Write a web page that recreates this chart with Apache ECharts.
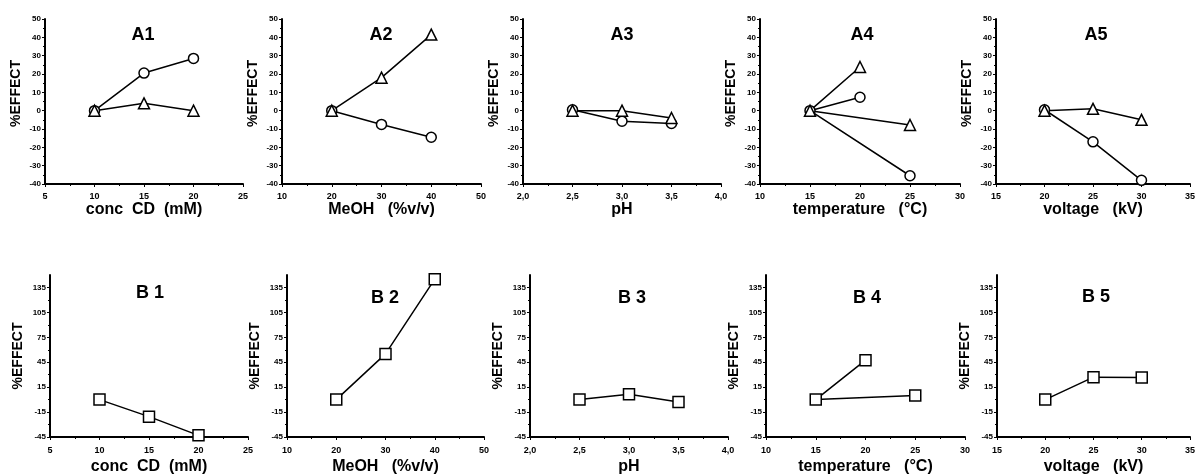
<!DOCTYPE html>
<html><head><meta charset="utf-8">
<script src="https://cdn.jsdelivr.net/npm/echarts@6/dist/echarts.min.js"></script>
<style>html,body{margin:0;padding:0;background:#fff}#c{width:1198px;height:476px}</style>
</head><body><div id="c"></div>
<script>
// ---- data ----
const titlesA = ['A1','A2','A3','A4','A5'];
const titlesB = ['B 1','B 2','B 3','B 4','B 5'];
const xNames = ['conc  CD  (mM)', 'MeOH   (%v/v)', 'pH', 'temperature   (°C)', 'voltage   (kV)'];
const xMins = [5, 10, 2.0, 10, 15];
const xMaxs = [25, 50, 4.0, 30, 35];
const xIntervals = [5, 10, 0.5, 5, 5];
const yTicksA = [-40,-30,-20,-10,0,10,20,30,40,50];
const yTicksB = [-45,-15,15,45,75,105,135];

const conc_x = [10, 15, 20];
const conc_circle = [0, 20.5, 28.5];
const conc_triangle = [0, 4, 0];
const conc_square = [0, -20.5, -43];

const meoh_x = [20, 30, 40];
const meoh_circle = [0, -7.5, -14.5];
const meoh_triangle = [0, 18, 41.5];
const meoh_square = [0, 55, 145];

const ph_x = [2.5, 3.0, 3.5];
const ph_circle = [0.5, -5.8, -7];
const ph_triangle = [0, 0, -4];
const ph_square = [0, 6.5, -3];

// temperature: lines run from 20 back to 15 then to 25
const temp_x = [20, 15, 25];
const temp_circle = [7.3, 0, -35.5];
const temp_triangle = [23.8, 0, -7.8];
const temp_square = [47.5, 0, 5];

const volt_x = [20, 25, 30];
const volt_circle = [0.5, -17, -38];
const volt_triangle = [0, 1, -5];
const volt_square = [0, 27, 26.5];

const xs = [conc_x, meoh_x, ph_x, temp_x, volt_x];
const circles = [conc_circle, meoh_circle, ph_circle, temp_circle, volt_circle];
const triangles = [conc_triangle, meoh_triangle, ph_triangle, temp_triangle, volt_triangle];
const squares = [conc_square, meoh_square, ph_square, temp_square, volt_square];

// ---- layout ----
const gridA = [[45,198],[282,199],[523,198],[760,200],[996,199]];
const gridB = [[50,198],[287,197],[530,198],[766,199],[997,198]];
const titlePosA = [[143,26],[381,26],[622,26],[862,26],[1096,26]];
const titlePosB = [[150,284],[385,289],[632,289],[867,289],[1096,288]];

const FONT = 'Liberation Sans, Arial, sans-serif';
const grids = [], xAxes = [], yAxes = [], series = [], titles = [];

function pair(xv, yv){ return xv.map((v,i)=>[v, yv[i]]); }
function fmtX(i){ return i===2 ? (v)=>Number(v).toFixed(1).replace('.',',') : (v)=>String(v); }

function addPanel(idx, row, g){
  const isA = row === 0;
  grids.push(isA ? {left:g[0], width:g[1], top:19, height:165}
                 : {left:g[0], width:g[1], top:275, height:165.5});
  const i = idx % 5;
  xAxes.push({
    type:'value', gridIndex:idx, min:xMins[i], max:xMaxs[i], interval:xIntervals[i],
    name:xNames[i], nameLocation:'middle', nameGap: isA ? 15 : 22,
    nameTextStyle:{fontFamily:FONT, fontWeight:'bold', fontSize:16, color:'#000', verticalAlign:'top'},
    axisLine:{onZero:false, lineStyle:{color:'#000', width:2}},
    axisTick:{show:true, inside:false, length:3, lineStyle:{color:'#000', width:1}},
    minorTick:{show:true, splitNumber:2, length:2, lineStyle:{color:'#000'}},
    splitLine:{show:false},
    axisLabel:{fontFamily:FONT, fontWeight:'bold', fontSize:9, color:'#000', margin: isA ? 8 : 9,
               formatter: fmtX(i), showMinLabel:true, showMaxLabel:true}
  });
  const yax = {
    type:'value', gridIndex:idx,
    name:'%EFFECT', nameLocation:'middle', nameGap: isA ? 22 : 25, nameRotate:90,
    nameTextStyle:{fontFamily:FONT, fontWeight:'bold', fontSize:14, color:'#000',
                   padding: isA ? [0,0,0,16] : 0},
    axisLine:{show:true, onZero:false, lineStyle:{color:'#000', width:2}},
    axisTick:{show:true, length:3, lineStyle:{color:'#000', width:1}},
    minorTick:{show:true, splitNumber:2, length:2, lineStyle:{color:'#000'}},
    splitLine:{show:false},
    axisLabel:{fontFamily:FONT, fontWeight:'bold', fontSize:8, color:'#000', margin:4}
  };
  if (isA){ yax.min = -40; yax.max = 50; yax.interval = 10; }
  else {
    yax.min = -45; yax.max = 150; yax.interval = 30;
    yax.axisLabel.customValues = yTicksB;
    yax.axisTick.customValues = yTicksB;
  }
  yAxes.push(yax);

  const base = {type:'line', xAxisIndex:idx, yAxisIndex:idx, clip:false, symbolSize:10,
    lineStyle:{color:'#000', width:1.5},
    itemStyle:{color:'#fff', borderColor:'#000', borderWidth:1.5}, z:3, animation:false};
  if (isA){
    series.push(Object.assign({}, base, {name:'circle'+i, symbol:'circle', data:pair(xs[i], circles[i])}));
    series.push(Object.assign({}, base, {name:'tri'+i, symbol:'triangle', symbolSize:11, data:pair(xs[i], triangles[i])}));
  } else {
    series.push(Object.assign({}, base, {name:'sq'+i, symbol:'rect', symbolSize:11, data:pair(xs[i], squares[i])}));
  }
  const tp = isA ? titlePosA[i] : titlePosB[i];
  titles.push({text: isA ? titlesA[i] : titlesB[i], left: tp[0], top: tp[1], textAlign:'center', padding:0,
    textStyle:{fontFamily:FONT, fontWeight:'bold', fontSize:18, color:'#000'}});
}
for (let k=0;k<5;k++) addPanel(k, 0, gridA[k]);
for (let k=0;k<5;k++) addPanel(5+k, 1, gridB[k]);

const chart = echarts.init(document.getElementById('c'), null, {renderer:'canvas'});
chart.setOption({backgroundColor:'#fff', animation:false, title:titles, grid:grids, xAxis:xAxes, yAxis:yAxes, series:series});
</script></body></html>
